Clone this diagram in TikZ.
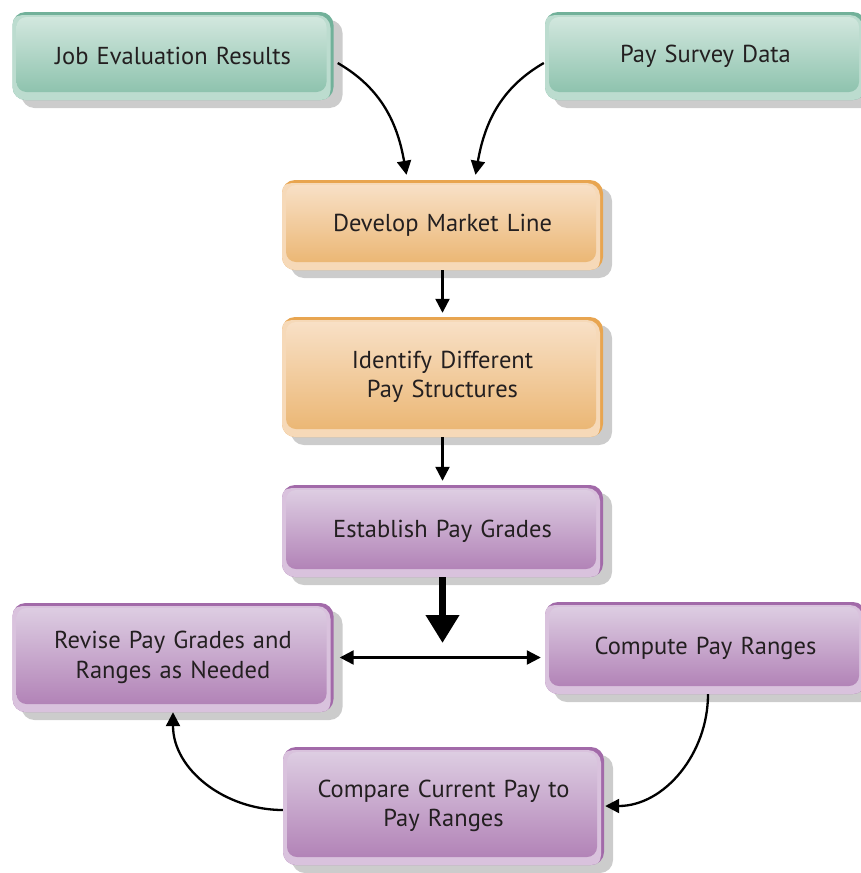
\documentclass[tikz,border=0pt]{standalone}
\usepackage{fontspec}
\setmainfont{PT Sans}
\usetikzlibrary{arrows.meta,shadows}

% Box colours: dark edge, light ring, inner top, inner bottom
\definecolor{grnedge}{HTML}{72B19A}
\definecolor{grnring}{HTML}{BCDCCF}
\definecolor{grntop}{HTML}{D2E7DE}
\definecolor{grnbot}{HTML}{8EC3AE}
\definecolor{orgedge}{HTML}{E8A550}
\definecolor{orgring}{HTML}{F6D9B8}
\definecolor{orgtop}{HTML}{F8E0C6}
\definecolor{orgbot}{HTML}{EBB775}
\definecolor{puredge}{HTML}{A26AA9}
\definecolor{purring}{HTML}{D9C2DD}
\definecolor{purtop}{HTML}{DDCDE2}
\definecolor{purbot}{HTML}{B283B7}
\definecolor{boxtext}{HTML}{231F20}

\tikzset{
  stepbox/.style n args={4}{
    rounded corners=13pt, minimum width=321pt, text width=300pt, align=center,
    font=\fontsize{24.5}{29.5}\selectfont, text=boxtext,
    drop shadow={shadow xshift=9pt, shadow yshift=-8pt, fill=black!20, opacity=1},
    fill=#1,
    path picture={
      \fill[#2, rounded corners=13pt]
        ([shift={(-3pt,-3pt)}]path picture bounding box.north west) rectangle
        ([shift={(-3pt,-3pt)}]path picture bounding box.south east);
      \shade[top color=#3, bottom color=#4, rounded corners=10pt]
        ([shift={(4pt,-5pt)}]path picture bounding box.north west) rectangle
        ([shift={(-7pt,8pt)}]path picture bounding box.south east);
    }
  },
  greenbox/.style={stepbox={grnedge}{grnring}{grntop}{grnbot}},
  orangebox/.style={stepbox={orgedge}{orgring}{orgtop}{orgbot}},
  purplebox/.style={stepbox={puredge}{purring}{purtop}{purbot}},
  link/.style={-{Triangle[width=14pt,length=14pt]}, line width=2.3pt},
  twoway/.style={{Triangle[width=14pt,length=14pt]}-{Triangle[width=14pt,length=14pt]}, line width=2.3pt},
  bigarrow/.style={-{Triangle[width=32pt,length=28pt]}, line width=7pt}
}

\begin{document}
\begin{tikzpicture}[x=1pt, y=-1pt]
  \useasboundingbox (0,0) rectangle (861,873);

  % Input boxes
  \node[greenbox, minimum height=88pt] (job) at (173,56) {Job Evaluation Results};
  \node[greenbox, minimum height=88pt] (survey) at (705.5,56) {Pay Survey Data};

  % Middle column
  \node[orangebox, minimum height=90pt] (market) at (442.5,225) {Develop Market Line};
  \node[orangebox, minimum height=120pt] (struct) at (442.5,377) {Identify Different\\Pay Structures};
  \node[purplebox, minimum height=92pt] (grades) at (442.5,531) {Establish Pay Grades};

  % Bottom loop
  \node[purplebox, minimum height=109pt] (revise) at (173,657.5) {Revise Pay Grades and\\Ranges as Needed};
  \node[purplebox, minimum height=92pt] (ranges) at (705.5,648) {Compute Pay Ranges};
  \node[purplebox, minimum height=118pt] (compare) at (443.5,806) {Compare Current Pay to\\Pay Ranges};

  \coordinate (hub) at (442.5,643);

  % Connectors
  \draw[link] ([shift={(4pt,-7pt)}]job.east) to[out=-30, in=100] ([shift={(-36pt,5pt)}]market.north);
  \draw[link] ([shift={(-1pt,-7pt)}]survey.west) to[out=-150, in=80] ([shift={(33pt,5pt)}]market.north);
  \draw[link] (market.south) -- ([yshift=4pt]struct.north);
  \draw[link] (struct.south) -- ([yshift=4pt]grades.north);
  \draw[bigarrow] (grades.south) -- (hub);
  \draw[twoway] ([xshift=6pt]revise.east) -- ([xshift=-4pt]revise.east -| ranges.west);
  \draw[link] ([xshift=2.5pt]ranges.south) to[out=-90, in=0] ([xshift=1pt]compare.east);
  \draw[link] ([yshift=-4pt]compare.west) to[out=180, in=-90] (revise.south);
\end{tikzpicture}
\end{document}
